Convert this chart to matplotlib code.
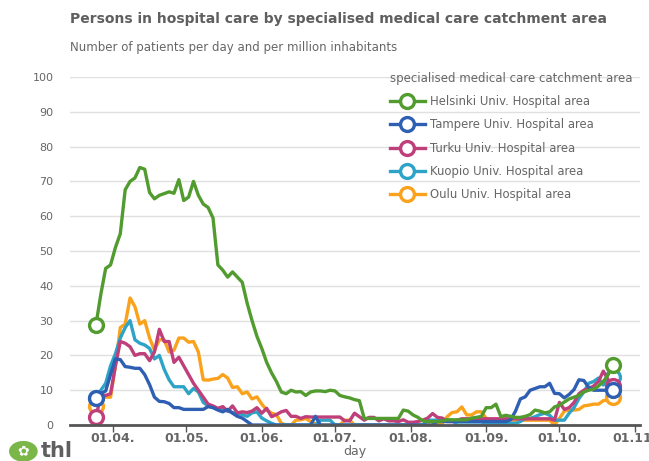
import numpy as np
import pandas as pd
import matplotlib
matplotlib.use("Agg")
import matplotlib.pyplot as plt
import matplotlib.dates as mdates
from matplotlib.lines import Line2D
from matplotlib.patches import Circle

# every second day from 25.03.2020
dates = pd.date_range("2020-03-25", "2020-10-23", freq="2D")

helsinki = [28.7, 37.5, 45, 46, 51, 55, 67.6, 70, 71, 74,
            73.5, 66.8, 65, 66, 66.5, 67, 66.6, 70.5, 64.5, 65.5,
            70, 66, 63.5, 62.5, 59.5, 46, 44.5, 42.5, 44, 42.5,
            41, 35, 30, 25.5, 22, 18, 15, 12.5, 9.5, 9,
            10, 9.5, 9.6, 8.5, 9.5, 9.8, 9.8, 9.6, 10, 9.8,
            8.5, 8.1, 7.8, 7.3, 7, 1.9, 1.9, 1.9, 1.9, 1.9,
            1.9, 1.9, 1.9, 4.3, 4, 2.9, 2.2, 1.2, 1, 1,
            1, 1.2, 1.5, 1.5, 1.5, 1.5, 1.5, 2, 2.2, 2.5,
            5, 5, 6, 2.4, 2.8, 2.5, 2.2, 2.2, 2.5, 3,
            4.3, 4, 3.5, 3.8, 5.2, 5.7, 6.6, 7.5, 8, 8.5,
            9.5, 10, 10.3, 11.2, 12.5, 14.5, 17.3]
tampere = [7.8, 9, 9.8, 14.5, 19, 18.8, 16.8, 16.6, 16.3, 16.3,
           14.5, 11.6, 8, 6.8, 6.7, 6.2, 5, 5, 4.5, 4.5,
           4.5, 4.5, 4.5, 5.3, 5, 4.3, 3.8, 4.5, 3.4, 2.5,
           2, 1, 0, 0, 0, 0, 0, 0, 0, 0,
           0, 0, 0, 0, 0, 2.5, 0, 0, 0, 0,
           0, 0, 0, 0, 0, 0, 0, 0, 0, 0,
           0, 0, 0, 0, 0, 0, 0, 0, 0, 0,
           1, 1, 1, 1, 1, 1, 1, 1, 1, 1,
           1, 1, 1, 1, 1, 1.5, 4, 7.5, 8.1, 10,
           10.5, 11, 11, 12, 9.1, 9, 7.8, 8.8, 10.2, 13,
           12.8, 10.8, 10, 10, 10, 10, 10]
turku = [2.2, 8.5, 8.5, 9, 17, 24, 23.5, 22.5, 20, 20.5,
         20.5, 18.5, 21, 27.5, 24, 24, 18, 19.5, 17, 14.5,
         12, 10, 8, 6, 5.5, 4.8, 5.3, 4, 5.5, 3.5,
         3.8, 3.6, 4, 5, 3.4, 4.8, 2.4, 3, 3.8, 4.2,
         2.5, 2.5, 1.9, 2.4, 2.3, 2.3, 2.3, 2.3, 2.3, 2.3,
         2.3, 1.2, 1.2, 3.4, 2.4, 1.4, 2.2, 2.2, 1.2, 1.8,
         1.2, 1.2, 1, 1.5, 0.8, 0.8, 1, 1.4, 2, 3.3,
         2.2, 2, 1, 1, 1.4, 1.8, 1.8, 1.8, 1.8, 1.8,
         1.8, 1.8, 1.8, 1.8, 1.8, 1.8, 1.8, 1.8, 1.8, 1.8,
         1.8, 1.8, 1.8, 1.8, 1.4, 6.5, 4.5, 5, 6.5, 9,
         10, 10.5, 11.2, 12.5, 15.5, 13, 11.2]
kuopio = [7.8, 10, 12, 17, 20.5, 25, 28, 30, 24.5, 23.5,
          23, 22, 19, 20, 16, 13, 11, 11, 11, 9,
          10.5, 9.5, 6.5, 5.5, 5, 4.5, 4.8, 4, 3.6, 3.4,
          3, 2.5, 3.5, 3.8, 2, 1.2, 0.5, 0, 0, 0,
          0, 0, 0, 0, 0, 0, 1.4, 1.4, 1.4, 0,
          0, 0, 0, 0, 0, 0, 0, 0, 0, 0,
          0, 0, 0, 0, 0, 0, 0, 0, 1.4, 1.4,
          1.4, 1.4, 1.4, 1.4, 0, 0, 0, 0, 0, 0,
          0.5, 0.5, 0.5, 0.5, 0.5, 0.5, 0.5, 1, 1.9, 1.9,
          2.4, 3, 3.4, 2.8, 1.4, 1.4, 1.4, 3.4, 5, 7.6,
          9.5, 12, 12.5, 13.5, 11.5, 13.9, 13.9]
oulu = [5.5, 8, 8, 8, 17, 28, 29, 36.5, 34, 29,
        30, 25, 21.5, 24.5, 24.5, 21, 21.5, 25, 25, 23.8,
        24, 21, 13, 12.9, 13.2, 13.4, 14.5, 13.5, 10.8, 11,
        9, 9.5, 7.5, 8.1, 6, 4.3, 3.4, 3, 0.5, 0,
        0, 1.4, 1.5, 1.9, 1, 0.3, 0, 0, 0, 0,
        0, 1.4, 1.4, 0, 0, 0, 0, 0, 0, 0,
        0, 0, 0, 0, 0, 0, 0, 0, 0, 0,
        0, 0.5, 2.4, 3.6, 3.8, 5.2, 2.9, 2.9, 3.8, 3.8,
        1.9, 1.4, 1.4, 1.4, 1.4, 1.4, 1.4, 1.4, 1.4, 1.4,
        1.4, 1.4, 1.4, 1.4, 0, 1.9, 4, 4.3, 4.3, 4.5,
        5.5, 5.7, 6, 6, 7, 7.2, 8.1]

names = ["Helsinki Univ. Hospital area", "Tampere Univ. Hospital area",
         "Turku Univ. Hospital area", "Kuopio Univ. Hospital area",
         "Oulu Univ. Hospital area"]
series = [helsinki, tampere, turku, kuopio, oulu]
colors = ["#519b2f", "#2f5fb3", "#be3f7a", "#2ea3c8", "#faa21b"]

grey = "#666666"
fig = plt.figure(figsize=(6.49, 4.61), dpi=100)
ax = fig.add_axes([0.108, 0.078, 0.878, 0.755])

for vals, c in zip(series[::-1], colors[::-1]):
    ax.plot(dates, vals, color=c, lw=2.4, marker="o", markevery=[0, len(vals) - 1],
            ms=10, mfc="white", mec=c, mew=2.4, solid_joinstyle="round")

ax.set_ylim(0, 100)
ax.set_yticks(range(0, 101, 10))
ax.set_xlim(pd.Timestamp("2020-03-14 10:00"), pd.Timestamp("2020-11-03"))
ax.xaxis.set_major_locator(mdates.MonthLocator())
ax.xaxis.set_major_formatter(mdates.DateFormatter("%d.%m."))
ax.grid(axis="y", color="#e0e0e0", lw=1)
ax.set_axisbelow(True)
for s in ["top", "right", "left"]:
    ax.spines[s].set_visible(False)
ax.spines["bottom"].set_color("#555555")
ax.spines["bottom"].set_linewidth(2)
ax.tick_params(axis="y", length=0, labelsize=8, labelcolor=grey, pad=12)
ax.tick_params(axis="x", length=5, width=1, color="#555555", labelsize=9,
               labelcolor=grey, pad=0)
for t in ax.get_xticklabels():
    t.set_fontweight("bold")
ax.set_xlabel("day", fontsize=9, color=grey, labelpad=0)

handles = [Line2D([], [], color=c, lw=2.4, marker="o", ms=10, mfc="white",
                  mec=c, mew=2.4) for c in colors]
leg = ax.legend(handles, names, title="specialised medical care catchment area",
                loc="upper right", bbox_to_anchor=(1.005, 1.045), frameon=False,
                fontsize=8.4, title_fontsize=8.5, labelspacing=0.88,
                handlelength=3.0, handletextpad=0.45, alignment="left")
for t in leg.get_texts():
    t.set_color(grey)
leg.get_title().set_color(grey)

fig.text(0.108, 0.958, "Persons in hospital care by specialised medical care catchment area",
         fontsize=10, fontweight="bold", color="#5f5f5f", va="center")
fig.text(0.108, 0.898, "Number of patients per day and per million inhabitants",
         fontsize=8.5, color=grey, va="center")

# thl logo
fig.patches.append(Circle((0.036, 0.021), 0.021, transform=fig.transFigure,
                          color="#7ab648", figure=fig))
fig.text(0.036, 0.021, "\u273f", color="white", fontsize=10, ha="center", va="center")
fig.text(0.063, 0.021, "thl", color="#5f5f5f", fontsize=15, fontweight="bold",
         va="center")

fig.savefig("out.png", dpi=100)
